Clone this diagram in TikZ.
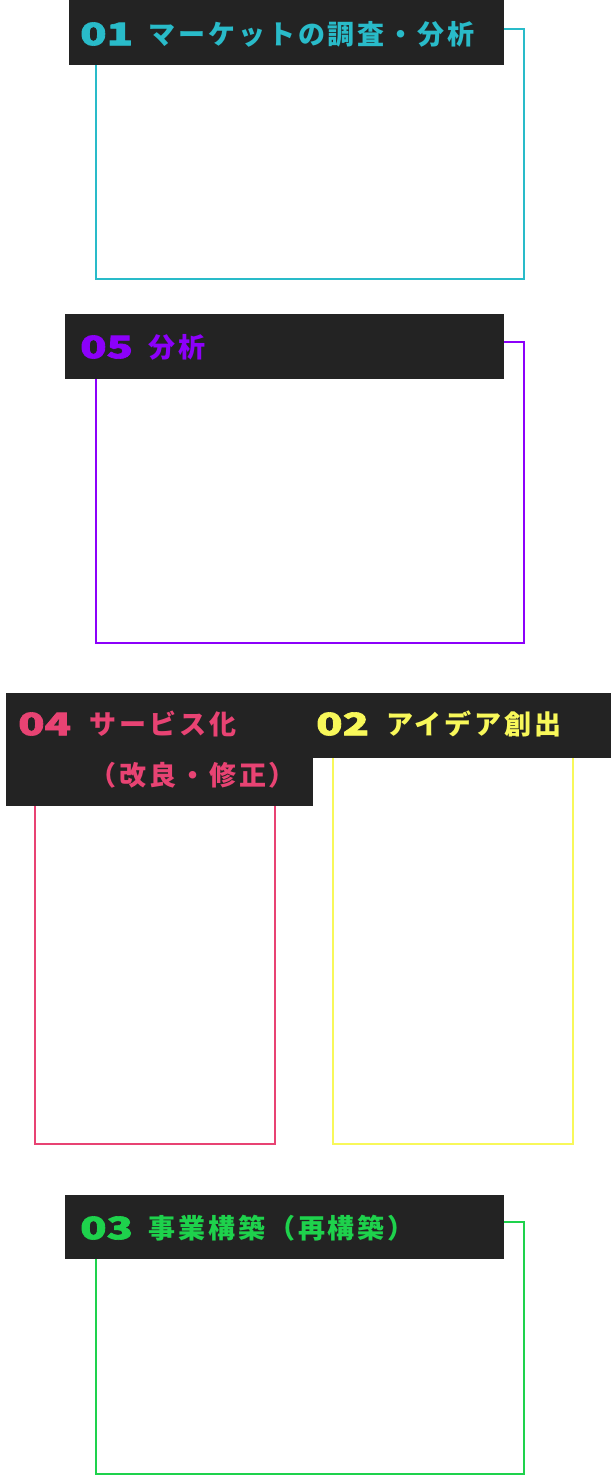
\documentclass[tikz,border=0pt]{standalone}
\usepackage{fontspec}
\usepackage{graphicx}
\usepackage{xcolor}
\newfontfamily\jpfont{Noto Sans CJK JP}[LetterSpace=11]
\newfontfamily\numfont{Noto Sans CJK JP}[FakeBold=2]
\definecolor{color_header}{RGB}{35, 35, 35}
\definecolor{color_market}{RGB}{41, 187, 201}
\definecolor{color_analysis}{RGB}{140, 0, 250}
\definecolor{color_service}{RGB}{232, 67, 115}
\definecolor{color_idea}{RGB}{248, 248, 90}
\definecolor{color_business}{RGB}{30, 210, 76}
\newcommand{\widenum}[1]{\scalebox{1.4}[1]{#1}}

\begin{document}
\begin{tikzpicture}[
    x=1pt,y=-1pt,
    headerbox/.style={fill=color_header,draw=none,anchor=north west,inner sep=0pt},
    outlinebox/.style={draw=#1,line width=2pt},
    numlabel/.style={font=\numfont\bfseries\fontsize{31}{32}\selectfont,anchor=west,inner sep=0pt},
    titlelabel/.style={font=\jpfont\bfseries\fontsize{27}{32}\selectfont,anchor=west,inner sep=0pt}
]
    % page is 612 x 1476, y grows downwards
    \useasboundingbox (0,0) rectangle (612,1476);

    % outlines first, the headers cover their top edges
    \draw[outlinebox=color_market]   (95.5,28.5)  rectangle (523.5,279);
    \draw[outlinebox=color_analysis] (95.5,342)   rectangle (523.5,643);
    \draw[outlinebox=color_service]  (35,760)     rectangle (275,1144);
    \draw[outlinebox=color_idea]     (332.5,730)  rectangle (572.5,1144);
    \draw[outlinebox=color_business] (95.5,1222)  rectangle (523.5,1474);

    % headers
    \foreach \name/\x/\y/\w/\h in {
        head01/69/0/435/65,
        head05/65/314/439/65,
        head04/6/693/307/113,
        head02/306/693/305/65,
        head03/65/1195/439/64
    }{
        \node[headerbox,minimum width=\w pt,minimum height=\h pt] (\name) at (\x,\y) {};
    }

    % header texts
    \node[numlabel,text=color_market] (num01) at (80,34) {\widenum{01}};
    \node[titlelabel,text=color_market] (title01) at (148,34) {マーケットの調査・分析};

    \node[numlabel,text=color_analysis] (num05) at (80,347) {\widenum{05}};
    \node[titlelabel,text=color_analysis] (title05) at (148,347) {分析};

    \node[numlabel,text=color_service] (num04) at (18,724) {\widenum{04}};
    \node[titlelabel,text=color_service] (title04) at (89,724) {サービス化};
    \node[titlelabel,text=color_service] (subtitle04) at (89,775) {（改良・修正）};

    \node[numlabel,text=color_idea] (num02) at (316,724) {\widenum{02}};
    \node[titlelabel,text=color_idea] (title02) at (386,724) {アイデア創出};

    \node[numlabel,text=color_business] (num03) at (80,1228) {\widenum{03}};
    \node[titlelabel,text=color_business] (title03) at (148,1228) {事業構築（再構築）};

\end{tikzpicture}
\end{document}
